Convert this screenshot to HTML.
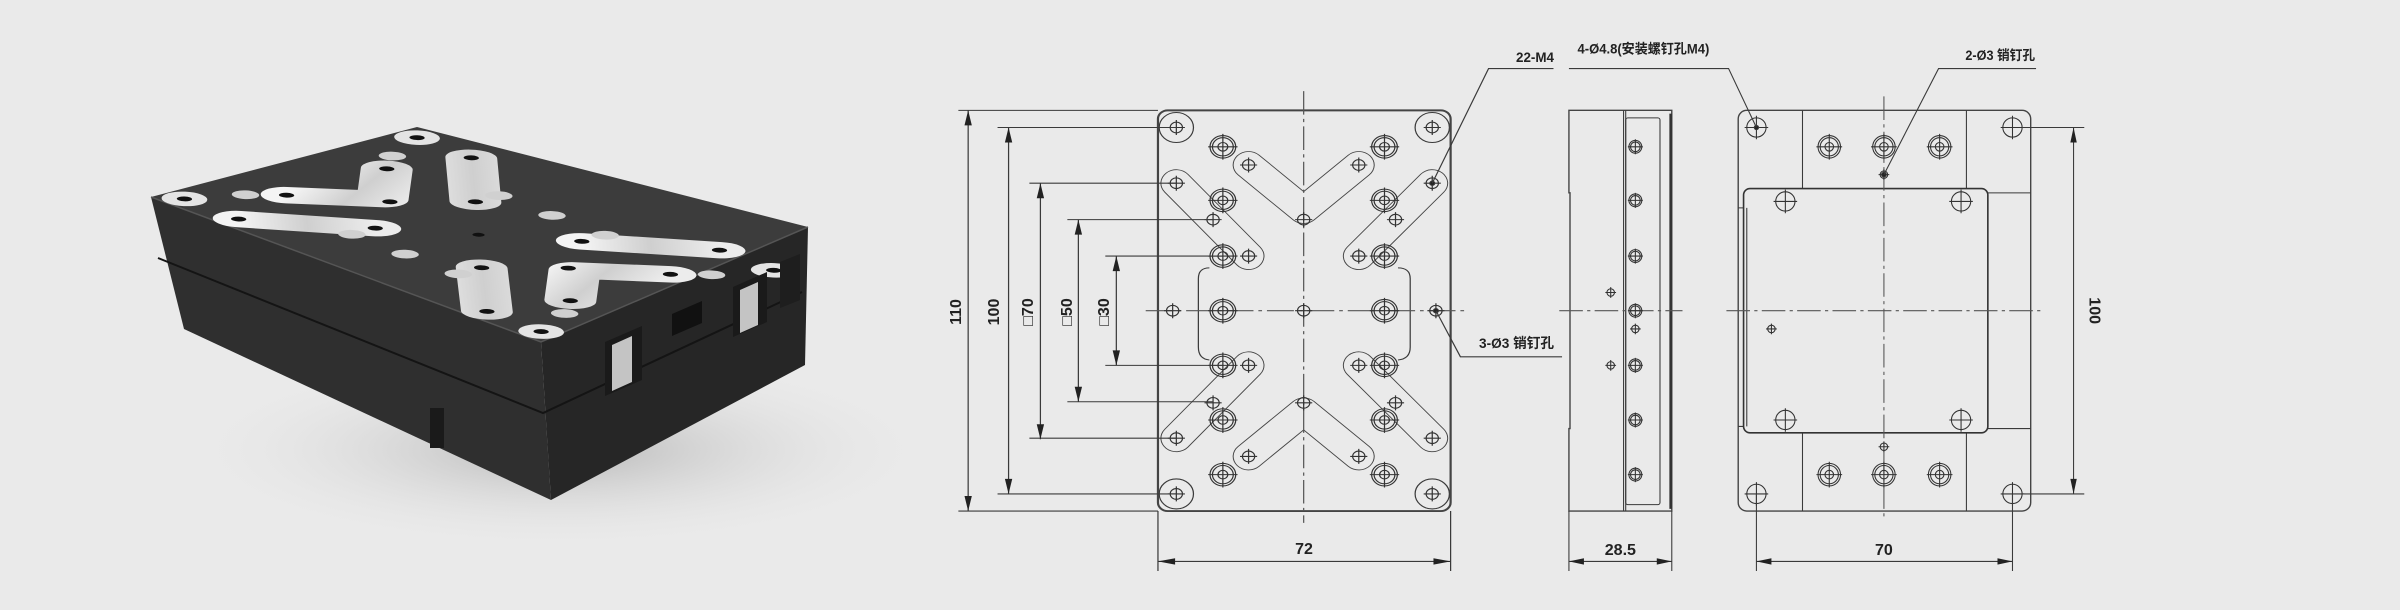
<!DOCTYPE html>
<html><head><meta charset="utf-8"><style>
html,body{margin:0;padding:0;background:#eaeaea;}
svg{display:block}
text{font-family:"Liberation Sans","Noto Sans CJK SC",sans-serif;font-weight:bold;fill:#222;}
</style></head><body>
<svg width="2400" height="610" viewBox="0 0 2400 610" xmlns="http://www.w3.org/2000/svg">
<defs>
<radialGradient id="sh" cx="50%" cy="50%" r="50%"><stop offset="0" stop-color="#a0a0a0" stop-opacity=".7"/><stop offset="1" stop-color="#eaeaea" stop-opacity="0"/></radialGradient>
<linearGradient id="silver" x1="0" y1="0" x2="1" y2="1"><stop offset="0" stop-color="#f4f4f4"/><stop offset=".5" stop-color="#cfcfcf"/><stop offset="1" stop-color="#ececec"/></linearGradient>
<g id="cb"><circle r="10.5" fill="none"/><circle r="8.5" fill="none"/><circle r="4" fill="none"/><path d="M-12 0H12M0-12V12"/></g>
<g id="sm"><circle r="5" fill="none"/><path d="M-7 0H7M0-7V7"/></g>
<g id="md"><circle r="9" fill="none"/><path d="M-11 0H11M0-11V11"/></g>
</defs>
<rect width="2400" height="610" fill="#eaeaea"/>

<!-- 3D render -->
<ellipse cx="560" cy="450" rx="380" ry="100" fill="url(#sh)"/>
<polygon points="151,197 541,342 551,500 184,329" fill="#2f2f2f"/>
<polygon points="541,342 808,227 805,365 551,500" fill="#262626"/>
<polyline points="158,258 543,413 802,292" fill="none" stroke="#141414" stroke-width="2"/>
<polygon points="151,197 417,127 808,227 541,342" fill="#3c3c3c"/>
<polyline points="151,197 541,342 808,227" fill="none" stroke="#555" stroke-width="1.5"/>
<g transform="matrix(1.113,-0.293,1.043,0.388,-1202.8,483.9)">
 <g fill="none" stroke="url(#silver)" stroke-linecap="round" stroke-linejoin="round" stroke-width="34">
  <polyline points="1192,156 1237,200 1282,156"/>
  <polyline points="1192,428 1237,384 1282,428"/>
  <polyline points="1133,173 1192,241"/><polyline points="1133,411 1192,343"/>
  <polyline points="1342,173 1282,241"/><polyline points="1342,411 1282,343"/>
 </g>
 <g fill="#e4e4e4"><circle cx="1133" cy="121" r="15"/><circle cx="1342" cy="121" r="15"/><circle cx="1133" cy="463" r="15"/><circle cx="1342" cy="463" r="15"/>
 <g fill="#d0d0d0"><circle cx="1171" cy="139" r="9"/><circle cx="1303" cy="139" r="9"/><circle cx="1171" cy="241" r="9"/><circle cx="1303" cy="241" r="9"/><circle cx="1171" cy="343" r="9"/><circle cx="1303" cy="343" r="9"/><circle cx="1171" cy="445" r="9"/><circle cx="1303" cy="445" r="9"/><circle cx="1171" cy="292" r="9"/><circle cx="1303" cy="292" r="9"/></g></g>
 <g fill="#111"><circle cx="1133" cy="121" r="5"/><circle cx="1342" cy="121" r="5"/><circle cx="1133" cy="463" r="5"/><circle cx="1342" cy="463" r="5"/><circle cx="1192" cy="156" r="5"/><circle cx="1282" cy="156" r="5"/><circle cx="1237" cy="207" r="5"/><circle cx="1237" cy="378" r="5"/><circle cx="1192" cy="428" r="5"/><circle cx="1282" cy="428" r="5"/><circle cx="1133" cy="173" r="5"/><circle cx="1342" cy="173" r="5"/><circle cx="1133" cy="411" r="5"/><circle cx="1342" cy="411" r="5"/><circle cx="1237" cy="292" r="4"/><circle cx="1192" cy="241" r="5"/><circle cx="1282" cy="241" r="5"/><circle cx="1192" cy="343" r="5"/><circle cx="1282" cy="343" r="5"/></g>
</g>
<polygon points="605,342 642,326 642,380 605,396" fill="#1a1a1a"/>
<polygon points="612,345 632,336 632,382 612,391" fill="#c4c4c4"/>
<polygon points="733,287 767,272 767,322 733,337" fill="#1a1a1a"/>
<polygon points="740,290 758,282 758,325 740,333" fill="#c4c4c4"/>
<polygon points="672,314 702,301 702,323 672,336" fill="#111"/>
<polygon points="780,262 800,254 800,300 780,308" fill="#1e1e1e"/>
<rect x="430" y="408" width="14" height="40" fill="#1a1a1a"/>

<!-- TOP VIEW (zoom1 coords) -->
<g transform="translate(940,30) scale(1.2245,1.0714) translate(-940,-30)" stroke="#3a3a3a" stroke-width="1" fill="none">
<g stroke="#444" stroke-width="26" stroke-linecap="round" stroke-linejoin="round">
 <polyline points="1192,156 1237,198 1282,156"/><polyline points="1192,428 1237,386 1282,428"/>
 <polyline points="1133,173 1192,241"/><polyline points="1133,411 1192,343"/>
 <polyline points="1342,173 1282,241"/><polyline points="1342,411 1282,343"/>
</g>
<g stroke="#eaeaea" stroke-width="24.4" stroke-linecap="round" stroke-linejoin="round">
 <polyline points="1192,156 1237,198 1282,156"/><polyline points="1192,428 1237,386 1282,428"/>
 <polyline points="1133,173 1192,241"/><polyline points="1133,411 1192,343"/>
 <polyline points="1342,173 1282,241"/><polyline points="1342,411 1282,343"/>
</g>
<path d="M1160 252 Q1151 252 1151 262 V326 Q1151 337 1160 338"/>
<path d="M1314 252 Q1324 252 1324 262 V326 Q1324 337 1314 338"/>
<circle cx="1133" cy="121" r="14"/><circle cx="1342" cy="121" r="14"/><circle cx="1133" cy="463" r="14"/><circle cx="1342" cy="463" r="14"/>
<rect x="1118" y="105" width="239" height="374" rx="8" stroke-width="1.8" stroke="#444"/>
<g stroke="#555" stroke-dasharray="22,4,3,4"><path d="M1237 87V490M1108 292H1368"/></g>
<g stroke="#333">
<use href="#cb" x="1171" y="139"/><use href="#cb" x="1303" y="139"/><use href="#cb" x="1171" y="189"/><use href="#cb" x="1303" y="189"/><use href="#cb" x="1171" y="241"/><use href="#cb" x="1303" y="241"/><use href="#cb" x="1171" y="292"/><use href="#cb" x="1303" y="292"/><use href="#cb" x="1171" y="343"/><use href="#cb" x="1303" y="343"/><use href="#cb" x="1171" y="394"/><use href="#cb" x="1303" y="394"/><use href="#cb" x="1171" y="445"/><use href="#cb" x="1303" y="445"/>
<use href="#sm" x="1133" y="121"/><use href="#sm" x="1342" y="121"/><use href="#sm" x="1133" y="463"/><use href="#sm" x="1342" y="463"/>
<use href="#sm" x="1192" y="156"/><use href="#sm" x="1282" y="156"/><use href="#sm" x="1237" y="207"/><use href="#sm" x="1237" y="378"/><use href="#sm" x="1192" y="428"/><use href="#sm" x="1282" y="428"/>
<use href="#sm" x="1133" y="173"/><use href="#sm" x="1342" y="173"/><use href="#sm" x="1133" y="411"/><use href="#sm" x="1342" y="411"/>
<use href="#sm" x="1163" y="207"/><use href="#sm" x="1312" y="207"/><use href="#sm" x="1163" y="378"/><use href="#sm" x="1312" y="378"/>
<use href="#sm" x="1192" y="241"/><use href="#sm" x="1282" y="241"/><use href="#sm" x="1192" y="343"/><use href="#sm" x="1282" y="343"/>
<use href="#sm" x="1130" y="292"/><use href="#sm" x="1237" y="292"/><use href="#sm" x="1345" y="292"/>
</g>
<circle cx="1342" cy="173" r="2" fill="#222"/><circle cx="1345" cy="292" r="2" fill="#222"/>
<path d="M955 105H1118M955 479H1118M987 121H1133M987 463H1133M1013 173H1133M1013 411H1133M1044 207H1163M1044 377H1163M1075 241H1171M1075 343H1171"/>
<path d="M963 105V479M996 121V463M1022 173V412M1053 207V377M1084 241V343"/>
<path d="M1118 479V535M1357 479V535M1118 526H1357"/>
<path d="M1441 66H1388L1342 173M1345 292L1365 335H1448"/>
<g fill="#222" stroke="none">
<path d="M963 105l-3 14h6zM963 479l-3-14h6zM996 121l-3 14h6zM996 463l-3-14h6zM1022 173l-3 14h6zM1022 412l-3-14h6zM1053 207l-3 14h6zM1053 377l-3-14h6zM1084 241l-3 14h6zM1084 343l-3-14h6z"/>
<path d="M1118 526l14-3v6zM1357 526l-14-3v6z"/>
</g>
</g>

<!-- SIDE + RIGHT VIEW (zoom2 coords) -->
<g transform="translate(1540,30) scale(1.0714) translate(-1540,-30)" stroke="#3a3a3a" stroke-width="1" fill="none">
<path d="M1567 105H1663V479H1567V402H1568V182H1567Z" stroke="#444" stroke-width="1.3"/>
<path d="M1618 105V479M1620 105V479"/>
<rect x="1620" y="112" width="32" height="361" rx="2"/>
<path d="M1662 108V477" stroke="#333" stroke-width="2.5"/>
<g stroke="#555" stroke-dasharray="22,4,3,4"><path d="M1558 292H1673"/></g>
<g stroke="#333">
<g transform="translate(1629,139)"><circle r="6"/><circle r="4.5"/><path d="M-7 0H7M0-7V7"/></g>
<g transform="translate(1629,189)"><circle r="6"/><circle r="4.5"/><path d="M-7 0H7M0-7V7"/></g>
<g transform="translate(1629,241)"><circle r="6"/><circle r="4.5"/><path d="M-7 0H7M0-7V7"/></g>
<g transform="translate(1629,292)"><circle r="6"/><circle r="4.5"/><path d="M-7 0H7M0-7V7"/></g>
<g transform="translate(1629,343)"><circle r="6"/><circle r="4.5"/><path d="M-7 0H7M0-7V7"/></g>
<g transform="translate(1629,394)"><circle r="6"/><circle r="4.5"/><path d="M-7 0H7M0-7V7"/></g>
<g transform="translate(1629,445)"><circle r="6"/><circle r="4.5"/><path d="M-7 0H7M0-7V7"/></g>
<g transform="translate(1629,309)"><circle r="3.5"/><path d="M-5 0H5M0-5V5"/></g>
<g transform="translate(1606,275)"><circle r="3.5"/><path d="M-5 0H5M0-5V5"/></g>
<g transform="translate(1606,343)"><circle r="3.5"/><path d="M-5 0H5M0-5V5"/></g>
</g>
<path d="M1567 479V535M1663 479V535M1567 526H1663"/>

<rect x="1725" y="105" width="273" height="374" rx="8" stroke="#444" stroke-width="1.3"/>
<path d="M1785 105V178M1938 105V178M1785 406V479M1938 406V479M1958 182H1998M1958 402H1998"/>
<path d="M1725 196H1730M1725 400H1730M1733 196V400"/>
<rect x="1730" y="178" width="228" height="228" rx="6" stroke="#333" stroke-width="1.5"/>
<g stroke="#555" stroke-dasharray="22,4,3,4"><path d="M1861 92V486M1714 292H2010"/></g>
<g stroke="#333">
<use href="#md" x="1742" y="121"/><use href="#md" x="1981" y="121"/><use href="#md" x="1742" y="463"/><use href="#md" x="1981" y="463"/>
<use href="#md" x="1769" y="190"/><use href="#md" x="1933" y="190"/><use href="#md" x="1769" y="394"/><use href="#md" x="1933" y="394"/>
<use href="#cb" x="1810" y="139"/><use href="#cb" x="1861" y="139"/><use href="#cb" x="1913" y="139"/>
<use href="#cb" x="1810" y="445"/><use href="#cb" x="1861" y="445"/><use href="#cb" x="1913" y="445"/>
<g transform="translate(1861,165)"><circle r="3.5"/><path d="M-5 0H5M0-5V5"/></g>
<g transform="translate(1861,419)"><circle r="3.5"/><path d="M-5 0H5M0-5V5"/></g>
<g transform="translate(1756,309)"><circle r="3.5"/><path d="M-5 0H5M0-5V5"/></g>
</g>
<circle cx="1742" cy="121" r="2" fill="#222"/><circle cx="1861" cy="165" r="2.2" fill="#222"/>
<path d="M1990 121H2048M1990 463H2048M2038 121V463"/>
<path d="M1742 463V535M1981 463V535M1742 526H1981"/>
<path d="M1567 66H1716L1742 121M2003 66H1912L1861 165"/>
<g fill="#222" stroke="none">
<path d="M1567 526l14-3v6zM1663 526l-14-3v6zM1742 526l14-3v6zM1981 526l-14-3v6z"/>
<path d="M2038 121l-3 14h6zM2038 463l-3-14h6z"/>
</g>
<g font-size="15" stroke="none">
<text x="1615" y="520" text-anchor="middle">28.5</text>
<text x="1861" y="520" text-anchor="middle">70</text>
<text transform="translate(2053,292) rotate(90)" text-anchor="middle">100</text>
<text x="1575" y="52" font-size="13" textLength="123" lengthAdjust="spacingAndGlyphs">4-Ø4.8(安装螺钉孔M4)</text>
<text x="1937" y="58" font-size="13" textLength="65" lengthAdjust="spacingAndGlyphs">2-Ø3 销钉孔</text>
</g>
</g>

<!-- top view labels -->
<g font-size="16">
<text transform="translate(961,312) rotate(-90)" text-anchor="middle">110</text>
<text transform="translate(999,312) rotate(-90)" text-anchor="middle">100</text>
<text transform="translate(1033,312) rotate(-90)" text-anchor="middle">□70</text>
<text transform="translate(1072,312) rotate(-90)" text-anchor="middle">□50</text>
<text transform="translate(1109,312) rotate(-90)" text-anchor="middle">□30</text>
<text x="1304" y="554" text-anchor="middle">72</text>
</g>
<g font-size="14">
<text x="1516" y="62" textLength="38" lengthAdjust="spacingAndGlyphs">22-M4</text>
<text x="1479" y="348" textLength="75" lengthAdjust="spacingAndGlyphs">3-Ø3 销钉孔</text>
</g>
</svg>
</body></html>
